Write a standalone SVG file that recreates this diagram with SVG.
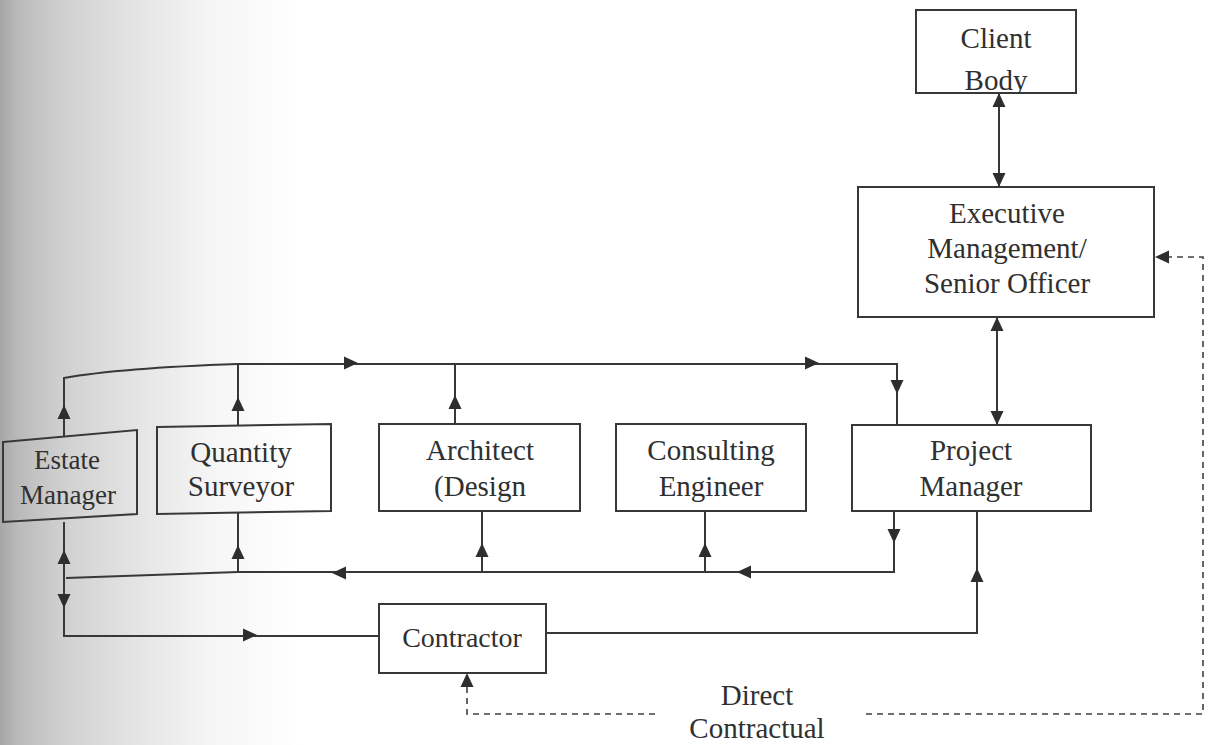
<svg xmlns="http://www.w3.org/2000/svg" xmlns:xlink="http://www.w3.org/1999/xlink" width="1209" height="745" viewBox="0 0 1209 745">
  <style>
    .box { fill: none; stroke: #383838; stroke-width: 2; }
    .line { fill: none; stroke: #383838; stroke-width: 2; }
    .dash { fill: none; stroke: #404040; stroke-width: 1.6; stroke-dasharray: 6 5; }
    .lbl { font-family: "Liberation Serif", "Times New Roman", serif; font-size: 29px; fill: #303030; text-anchor: middle; }
    .ah { fill: #2e2e2e; }
  </style>
  <defs>
    <!-- shading along the left margin -->
    <linearGradient id="shade" gradientUnits="userSpaceOnUse" x1="0" y1="0" x2="300" y2="0">
      <stop offset="0" stop-color="#a6a6a6"/>
      <stop offset="0.06" stop-color="#bababa"/>
      <stop offset="0.2" stop-color="#cfcfcf"/>
      <stop offset="0.45" stop-color="#e4e4e4"/>
      <stop offset="0.7" stop-color="#f5f5f5"/>
      <stop offset="1" stop-color="#ffffff"/>
    </linearGradient>
    <!-- arrowhead pointing right, tip at origin -->
    <path id="ah" class="ah" d="M0,0 L-14,-6.5 L-14,6.5 Z"/>
    <clipPath id="clientClip"><rect x="916" y="10" width="160" height="83"/></clipPath>
  </defs>

  <rect x="0" y="0" width="1209" height="745" fill="#ffffff"/>
  <rect x="0" y="0" width="300" height="745" fill="url(#shade)"/>

  <!-- connectors -->
  <g id="connectors">
    <!-- upper bus -->
    <path class="line" d="M64,436 V378 Q120,368 238,364 H897 V425"/>
    <path class="line" d="M238,364 V426"/>
    <path class="line" d="M455,363 V424"/>
    <!-- lower bus -->
    <path class="line" d="M894,510 V572 H238 L66,578"/>
    <path class="line" d="M238,513 V572"/>
    <path class="line" d="M482,511 V572"/>
    <path class="line" d="M705,510 V572"/>
    <!-- contractor loop -->
    <path class="line" d="M64,522 V636 H379"/>
    <path class="line" d="M546,633 H977 V510"/>
    <!-- executive links -->
    <path class="line" d="M999,93 V187"/>
    <path class="line" d="M997,317 V425"/>
    <!-- direct contractual link -->
    <path class="dash" d="M467,676 V714 H655"/>
    <path class="dash" d="M866,714 H1203 V257 H1160"/>

    <!-- arrowheads -->
    <use xlink:href="#ah" transform="translate(64,405) rotate(-90)"/>
    <use xlink:href="#ah" transform="translate(238,397) rotate(-90)"/>
    <use xlink:href="#ah" transform="translate(455,395) rotate(-90)"/>
    <use xlink:href="#ah" transform="translate(358,363)"/>
    <use xlink:href="#ah" transform="translate(819,363)"/>
    <use xlink:href="#ah" transform="translate(897,394) rotate(90)"/>

    <use xlink:href="#ah" transform="translate(894,543) rotate(90)"/>
    <use xlink:href="#ah" transform="translate(737,572) rotate(180)"/>
    <use xlink:href="#ah" transform="translate(705,543) rotate(-90)"/>
    <use xlink:href="#ah" transform="translate(482,543) rotate(-90)"/>
    <use xlink:href="#ah" transform="translate(332,573) rotate(180)"/>
    <use xlink:href="#ah" transform="translate(238,545) rotate(-90)"/>
    <use xlink:href="#ah" transform="translate(64,550) rotate(-90)"/>
    <use xlink:href="#ah" transform="translate(64,608) rotate(90)"/>

    <use xlink:href="#ah" transform="translate(257,635)"/>
    <use xlink:href="#ah" transform="translate(977,568) rotate(-90)"/>

    <use xlink:href="#ah" transform="translate(999,93) rotate(-90)"/>
    <use xlink:href="#ah" transform="translate(999,187) rotate(90)"/>
    <use xlink:href="#ah" transform="translate(997,317) rotate(-90)"/>
    <use xlink:href="#ah" transform="translate(997,425) rotate(90)"/>

    <use xlink:href="#ah" transform="translate(467,673) rotate(-90)"/>
    <use xlink:href="#ah" transform="translate(1155,257) rotate(180)"/>
  </g>

  <g id="client-body">
    <rect class="box" x="916" y="10" width="160" height="83"/>
    <text class="lbl" x="996" y="48">Client</text>
    <text class="lbl" x="996" y="90" clip-path="url(#clientClip)">Body</text>
  </g>

  <g id="executive-management">
    <rect class="box" x="858" y="187" width="296" height="130"/>
    <text class="lbl" x="1007" y="223">Executive</text>
    <text class="lbl" x="1007" y="258">Management/</text>
    <text class="lbl" x="1007" y="293">Senior Officer</text>
  </g>

  <g id="estate-manager">
    <polygon class="box" points="3,442 137,430 137,514 3,522"/>
    <text class="lbl" x="67" y="469" style="font-size:27px">Estate</text>
    <text class="lbl" x="68" y="504" style="font-size:27px">Manager</text>
  </g>

  <g id="quantity-surveyor">
    <polygon class="box" points="157,427 331,424 331,511 157,514"/>
    <text class="lbl" x="241" y="462">Quantity</text>
    <text class="lbl" x="241" y="496">Surveyor</text>
  </g>

  <g id="architect">
    <rect class="box" x="379" y="424" width="201" height="87"/>
    <text class="lbl" x="480" y="460">Architect</text>
    <text class="lbl" x="480" y="496">(Design</text>
  </g>

  <g id="consulting-engineer">
    <rect class="box" x="616" y="424" width="190" height="87"/>
    <text class="lbl" x="711" y="460">Consulting</text>
    <text class="lbl" x="711" y="496">Engineer</text>
  </g>

  <g id="project-manager">
    <rect class="box" x="852" y="425" width="239" height="86"/>
    <text class="lbl" x="971" y="460">Project</text>
    <text class="lbl" x="971" y="496">Manager</text>
  </g>

  <g id="contractor">
    <rect class="box" x="379" y="604" width="167" height="69"/>
    <text class="lbl" x="462" y="647" style="font-size:28px">Contractor</text>
  </g>

  <g id="direct-contractual">
    <text class="lbl" x="757" y="705">Direct</text>
    <text class="lbl" x="757" y="738">Contractual</text>
  </g>
</svg>
